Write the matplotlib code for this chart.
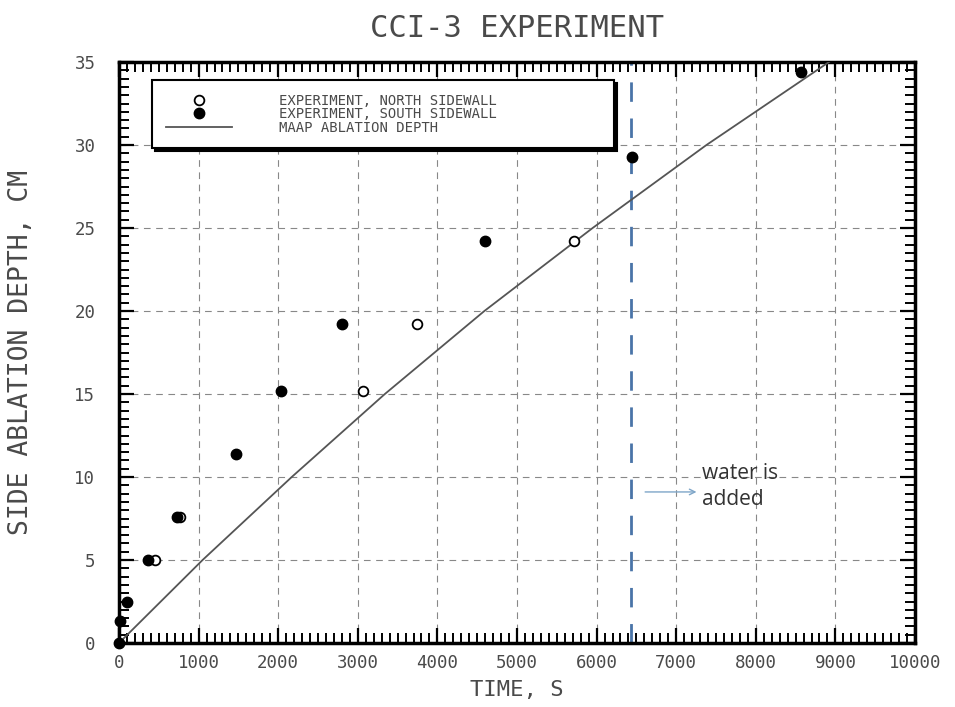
import numpy as np
import matplotlib.pyplot as plt
from matplotlib.ticker import MultipleLocator

# experiment data
north_time = [450, 770, 3060, 3750, 5720]
north_depth = [5.0, 7.6, 15.2, 19.2, 24.2]

south_time = [0, 10, 100, 360, 730, 1470, 2030, 2800, 4600, 6440, 8570]
south_depth = [0.0, 1.3, 2.5, 5.0, 7.6, 11.4, 15.2, 19.2, 24.2, 29.3, 34.4]

# MAAP calculation
maap_time = [0, 1050, 2170, 3340, 4590, 5950, 7380, 8920]
maap_depth = [0, 5, 10, 15, 20, 25, 30, 35]

water_time = 6430

mono = 'DejaVu Sans Mono'
txt_col = '#4a4a4a'

fig = plt.figure(figsize=(9.55, 7.07), dpi=100)
ax = fig.add_axes([0.1246, 0.0905, 0.8335, 0.8218])

ax.plot(maap_time, maap_depth, '-', color='#555555', lw=1.3,
        label='MAAP ABLATION DEPTH', zorder=3)
ax.plot(north_time, north_depth, 'o', mfc='white', mec='black', mew=1.3, ms=7,
        ls='none', label='EXPERIMENT, NORTH SIDEWALL', zorder=4)
ax.plot(south_time, south_depth, 'o', color='black', ms=7.5,
        ls='none', label='EXPERIMENT, SOUTH SIDEWALL', zorder=5, clip_on=False)

ax.axvline(water_time, color='#4a74a8', lw=2, dashes=(7, 6), zorder=2)
ax.annotate('', xy=(7290, 9.1), xytext=(6575, 9.1),
            arrowprops=dict(arrowstyle='->', color='#7fa6c8', lw=1))
ax.text(7330, 8.0, 'water is\nadded', family='Open Sans', fontsize=15,
        color='#333333', va='bottom', ha='left', linespacing=1.35)

ax.set_xlim(0, 10000)
ax.set_ylim(0, 35)
ax.xaxis.set_major_locator(MultipleLocator(1000))
ax.xaxis.set_minor_locator(MultipleLocator(100))
ax.yaxis.set_major_locator(MultipleLocator(5))
ax.yaxis.set_minor_locator(MultipleLocator(0.5))
ax.tick_params(which='both', direction='in', top=True, right=True,
               labelcolor=txt_col, color='black')
ax.tick_params(which='major', length=11, width=1.6, labelsize=12.5)
ax.tick_params(which='minor', length=7, width=1.4)
ax.tick_params(axis='x', which='major', pad=8)
ax.tick_params(axis='y', which='major', pad=17)
for lab in ax.get_xticklabels() + ax.get_yticklabels():
    lab.set_family(mono)
for sp in ax.spines.values():
    sp.set_linewidth(2.5)

ax.grid(True, which='major', color='#888888', lw=0.8, dashes=(6, 5))

ax.set_title('CCI-3 EXPERIMENT', family=mono, fontsize=22, color=txt_col, pad=18)
ax.set_xlabel('TIME, S', family=mono, fontsize=16, color=txt_col, labelpad=6)
ax.set_ylabel('SIDE ABLATION DEPTH, CM', family=mono, fontsize=19,
              color=txt_col, labelpad=29)

h, l = ax.get_legend_handles_labels()
leg = ax.legend([h[1], h[2], h[0]], [l[1], l[2], l[0]],
                loc='upper left', bbox_to_anchor=(0.042, 0.869, 0.58, 0.1),
                mode='expand',
                prop={'family': mono, 'size': 10}, labelspacing=-0.05,
                handlelength=4.7, handletextpad=3.4, borderpad=1.0,
                borderaxespad=0,
                fancybox=False, shadow={'color': 'black', 'alpha': 1},
                framealpha=1, edgecolor='black')
leg.get_frame().set_linewidth(1.5)
for t in leg.get_texts():
    t.set_color(txt_col)

fig.savefig('out.png', dpi=100)
